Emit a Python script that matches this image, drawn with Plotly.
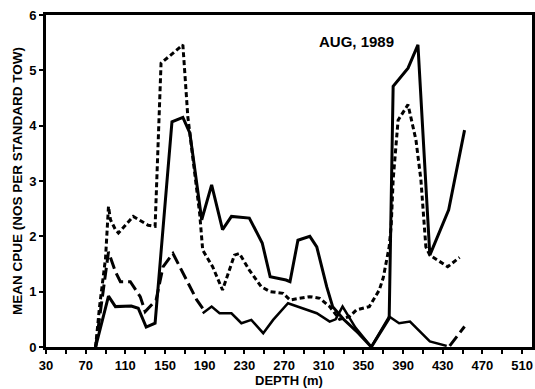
import plotly.graph_objects as go

# Depth (m) and mean CPUE for each series
solid_depth = [80, 93, 100, 116, 123, 131, 140, 157, 168, 175, 187, 197, 208, 217, 235, 248, 256, 272, 276, 284, 296, 303, 313, 319, 330, 345, 358, 376, 380, 395, 405, 417, 436, 452]
solid_cpue = [0, 0.92, 0.73, 0.74, 0.70, 0.36, 0.43, 4.07, 4.15, 3.87, 2.30, 2.93, 2.12, 2.36, 2.33, 1.88, 1.27, 1.21, 1.18, 1.93, 2.00, 1.81, 1.09, 0.73, 0.50, 0.25, 0.0, 0.52, 4.71, 5.04, 5.46, 1.66, 2.48, 3.92]

dotted_depth = [80, 84, 90, 93, 95, 100, 103, 118, 133, 140, 146, 152, 162, 168, 173, 178, 185, 188, 198, 208, 214, 220, 225, 235, 247, 256, 269, 276, 296, 306, 316, 326, 336, 343, 356, 366, 370, 373, 376, 378, 380, 385, 395, 403, 408, 413, 417, 435, 447]
dotted_cpue = [0, 0.73, 1.60, 2.54, 2.30, 2.12, 2.06, 2.36, 2.20, 2.18, 5.13, 5.22, 5.37, 5.46, 4.16, 3.38, 2.40, 1.75, 1.45, 1.03, 1.33, 1.66, 1.69, 1.39, 1.09, 1.00, 0.97, 0.85, 0.91, 0.88, 0.73, 0.50, 0.55, 0.67, 0.73, 1.03, 1.25, 1.57, 1.81, 2.18, 3.02, 4.10, 4.38, 3.74, 3.02, 1.81, 1.66, 1.45, 1.62]

dashed_depth = [80, 87, 93, 100, 105, 115, 125, 130, 141, 148, 158, 182, 188, None, 437, 452]
dashed_cpue = [0, 0.90, 1.72, 1.36, 1.18, 1.18, 0.91, 0.64, 0.85, 1.45, 1.69, 0.85, 0.70, None, 0.02, 0.37]

low_depth = [188, 197, 205, 217, 227, 237, 249, 259, 274, 289, 303, 316, 322, 329, 342, 358, 376, 386, 397, 417, 434]
low_cpue = [0.61, 0.73, 0.61, 0.61, 0.43, 0.49, 0.25, 0.49, 0.79, 0.70, 0.61, 0.46, 0.50, 0.73, 0.35, 0.0, 0.55, 0.43, 0.46, 0.10, 0.02]

x_ticks = [30, 70, 110, 150, 190, 230, 270, 310, 350, 390, 430, 470, 510]
y_ticks = [0, 1, 2, 3, 4, 5, 6]

fig = go.Figure()
fig.add_trace(go.Scatter(x=dotted_depth, y=dotted_cpue, mode="lines",
                         line=dict(color="black", width=3, dash="5px,3px")))
fig.add_trace(go.Scatter(x=dashed_depth, y=dashed_cpue, mode="lines", connectgaps=False,
                         line=dict(color="black", width=3, dash="12px,5px")))
fig.add_trace(go.Scatter(x=low_depth, y=low_cpue, mode="lines",
                         line=dict(color="black", width=2.5)))
fig.add_trace(go.Scatter(x=solid_depth, y=solid_cpue, mode="lines",
                         line=dict(color="black", width=3)))

font_family = "Liberation Sans, Arial, sans-serif"

fig.update_layout(
    width=535, height=389,
    margin=dict(l=46, r=3, t=15, b=42, autoexpand=False),
    paper_bgcolor="white", plot_bgcolor="white",
    showlegend=False,
    font=dict(family=font_family, size=13, color="black", weight="bold"),
    xaxis=dict(
        range=[30, 520], tickmode="array", tickvals=x_ticks, automargin=False,
        ticks="outside", ticklen=4, tickwidth=2, tickcolor="black",
        minor=dict(dtick=20, tick0=30, ticks="outside", ticklen=4, tickwidth=2, tickcolor="black"),
        showline=True, linewidth=3, linecolor="black", mirror=True,
        showgrid=False, zeroline=False,
        tickfont=dict(size=13, weight="bold"),
        title=dict(text="DEPTH (m)", font=dict(size=13, weight="bold"), standoff=0),
    ),
    yaxis=dict(
        range=[0, 6], tickmode="array", tickvals=y_ticks, automargin=False,
        ticks="outside", ticklen=4, tickwidth=2, tickcolor="black",
        showline=True, linewidth=3, linecolor="black", mirror=True,
        showgrid=False, zeroline=False,
        tickfont=dict(size=13, weight="bold"),
        title=dict(text="MEAN CPUE (NOS PER STANDARD TOW)", font=dict(size=13.5, weight="bold"), standoff=4),
    ),
)
fig.add_annotation(text="AUG, 1989", x=343, y=5.52, xref="x", yref="y", showarrow=False,
                   font=dict(size=15, weight="bold"))

fig.write_html("out.html", config={"displayModeBar": False, "staticPlot": True},
               post_script="document.body.style.margin='0';document.body.style.overflow='hidden';")
